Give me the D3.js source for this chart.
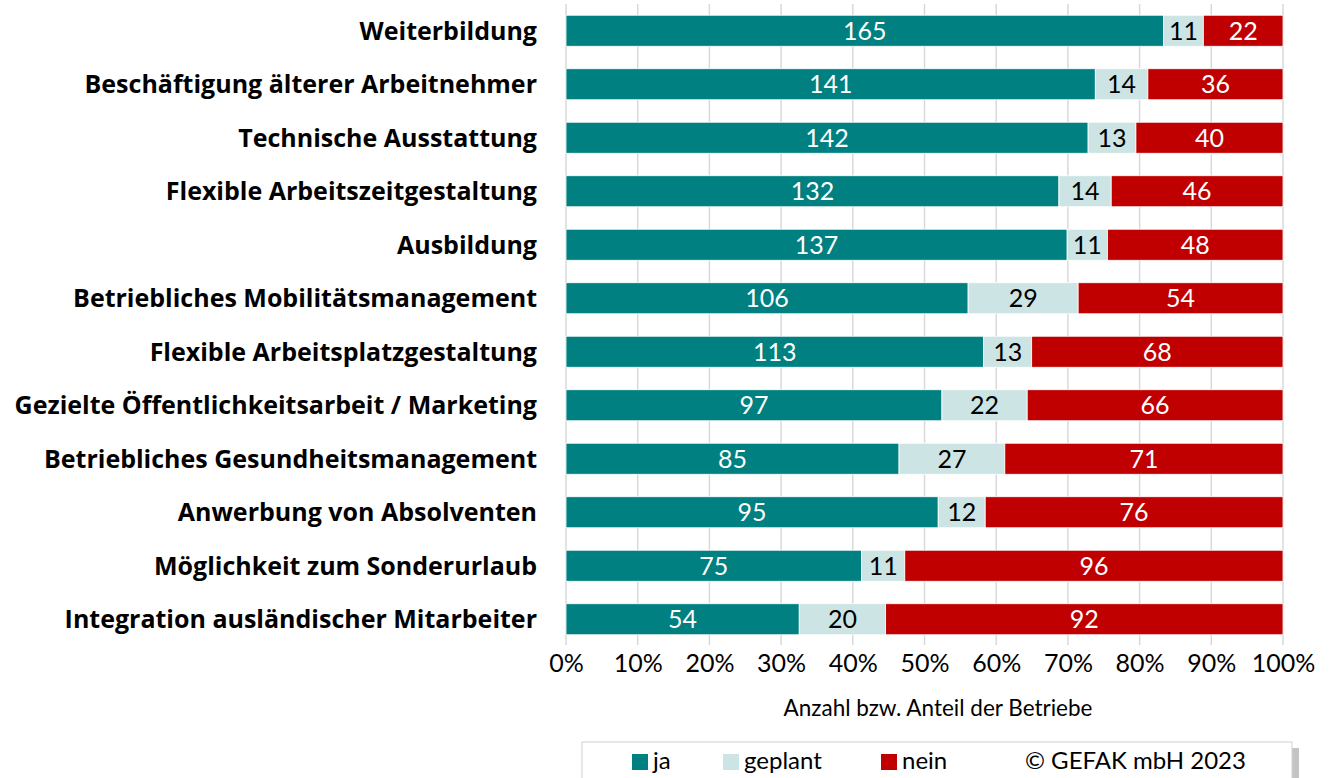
<!DOCTYPE html>
<html>
<head>
<meta charset="utf-8">
<script src="https://cdn.jsdelivr.net/npm/d3@7"></script>
<style>
  body { margin: 0; background: #fff; }
  svg { display: block; font-family: Lato, "Open Sans", sans-serif; }
</style>
</head>
<body>
<svg id="chart" width="1330" height="778"></svg>
<script>
const categories = [
  "Weiterbildung",
  "Beschäftigung älterer Arbeitnehmer",
  "Technische Ausstattung",
  "Flexible Arbeitszeitgestaltung",
  "Ausbildung",
  "Betriebliches Mobilitätsmanagement",
  "Flexible Arbeitsplatzgestaltung",
  "Gezielte Öffentlichkeitsarbeit / Marketing",
  "Betriebliches Gesundheitsmanagement",
  "Anwerbung von Absolventen",
  "Möglichkeit zum Sonderurlaub",
  "Integration ausländischer Mitarbeiter"
];
const ja = [165, 141, 142, 132, 137, 106, 113, 97, 85, 95, 75, 54];
const geplant = [11, 14, 13, 14, 11, 29, 13, 22, 27, 12, 11, 20];
const nein = [22, 36, 40, 46, 48, 54, 68, 66, 71, 76, 96, 92];
const seriesNames = ["ja", "geplant", "nein"];
const tickValues = [0, 0.1, 0.2, 0.3, 0.4, 0.5, 0.6, 0.7, 0.8, 0.9, 1];

const COLORS = { ja: "#008080", geplant: "#cce5e4", nein: "#c00000" };
const LABEL_COLORS = { ja: "#ffffff", geplant: "#000000", nein: "#ffffff" };

const svg = d3.select("#chart");

const x = d3.scaleLinear().domain([0, 1]).range([566, 1283]);
const y = d3.scaleBand().domain(categories).range([4, 646]).paddingInner(0.42).paddingOuter(0.21);

const rows = categories.map((c, i) => ({ cat: c, ja: ja[i], geplant: geplant[i], nein: nein[i] }));
const normalized = rows.map((r) => {
  const total = r.ja + r.geplant + r.nein;
  return { cat: r.cat, ja: r.ja / total, geplant: r.geplant / total, nein: r.nein / total, raw: r };
});
const stacked = d3.stack().keys(seriesNames)(normalized);

// gridlines
svg.append("g")
  .selectAll("line")
  .data(tickValues)
  .join("line")
  .attr("x1", (d) => x(d))
  .attr("x2", (d) => x(d))
  .attr("y1", 4)
  .attr("y2", 645)
  .attr("stroke", "#d9d9d9")
  .attr("stroke-width", 1.5);

// bars
const layers = svg.append("g")
  .selectAll("g.series")
  .data(stacked)
  .join("g")
  .attr("class", "series");

layers.selectAll("rect")
  .data((s) => s.map((d) => ({ key: s.key, d })))
  .join("rect")
  .attr("x", (e) => x(e.d[0]))
  .attr("y", (e) => y(e.d.data.cat))
  .attr("width", (e) => x(e.d[1]) - x(e.d[0]))
  .attr("height", y.bandwidth())
  .attr("fill", (e) => COLORS[e.key])
  .attr("stroke", "#ffffff")
  .attr("stroke-width", 0.8);

layers.selectAll("text")
  .data((s) => s.map((d) => ({ key: s.key, d })))
  .join("text")
  .attr("x", (e) => (x(e.d[0]) + x(e.d[1])) / 2)
  .attr("y", (e) => y(e.d.data.cat) + y.bandwidth() / 2)
  .attr("dy", "0.36em")
  .attr("text-anchor", "middle")
  .attr("font-size", 25)
  .attr("fill", (e) => LABEL_COLORS[e.key])
  .text((e) => e.d.data.raw[e.key]);

// category labels
svg.append("g")
  .selectAll("text")
  .data(categories)
  .join("text")
  .attr("x", 537)
  .attr("y", (d) => y(d) + y.bandwidth() / 2)
  .attr("dy", "0.36em")
  .attr("text-anchor", "end")
  .attr("font-family", "'Open Sans', sans-serif")
  .attr("font-size", 25)
  .attr("font-weight", 700)
  .attr("fill", "#000")
  .text((d) => d);

// x axis
const xAxis = svg.append("g")
  .attr("transform", "translate(0,645)")
  .call(d3.axisBottom(x).tickValues(tickValues).tickFormat(d3.format(".0%")).tickSize(0));
xAxis.select(".domain").remove();
xAxis.selectAll("text")
  .attr("y", 27)
  .attr("dy", 0)
  .attr("font-size", 25)
  .attr("font-family", "Lato, 'Open Sans', sans-serif")
  .attr("fill", "#000");

svg.append("text")
  .attr("x", 938)
  .attr("y", 716)
  .attr("text-anchor", "middle")
  .attr("font-size", 22.5)
  .attr("fill", "#000")
  .text("Anzahl bzw. Anteil der Betriebe");

// legend
const legend = svg.append("g");
legend.append("rect")
  .attr("x", 588).attr("y", 748).attr("width", 711).attr("height", 50)
  .attr("fill", "#c4c4c4");
legend.append("rect")
  .attr("x", 582).attr("y", 742).attr("width", 710).attr("height", 50)
  .attr("fill", "#fff").attr("stroke", "#d0d0d0");

const legendItems = [
  { key: "ja", x: 632, label: "ja" },
  { key: "geplant", x: 723, label: "geplant" },
  { key: "nein", x: 881, label: "nein" }
];
legend.selectAll("rect.sw")
  .data(legendItems)
  .join("rect")
  .attr("class", "sw")
  .attr("x", (d) => d.x)
  .attr("y", 754)
  .attr("width", 16)
  .attr("height", 16)
  .attr("fill", (d) => COLORS[d.key]);
legend.selectAll("text.lt")
  .data(legendItems)
  .join("text")
  .attr("class", "lt")
  .attr("x", (d) => d.x + 21)
  .attr("y", 769)
  .attr("font-size", 24)
  .attr("fill", "#000")
  .text((d) => d.label);
legend.append("text")
  .attr("x", 1025).attr("y", 769)
  .attr("font-size", 24)
  .attr("fill", "#000")
  .text("© GEFAK mbH 2023");
</script>
</body>
</html>
